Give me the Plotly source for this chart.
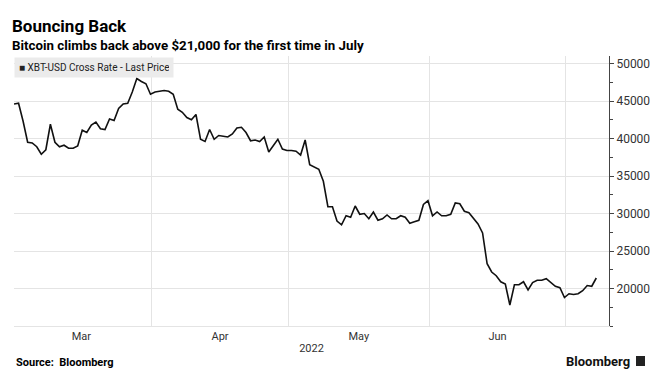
import pandas as pd
import plotly.graph_objects as go

# XBT-USD cross rate, last price (USD thousands), one value per day
mar = [44.6, 44.7, 42.3, 39.5, 39.4, 38.9, 37.9, 38.5, 41.9, 39.5,
       38.9, 39.1, 38.7, 38.7, 39.0, 41.1, 40.8, 41.8, 42.2, 41.3,
       41.2, 42.6, 42.4, 44.0, 44.6, 44.7, 46.2, 48.0, 47.6, 47.3, 45.9]
apr = [46.2, 46.3, 46.4, 46.3, 45.9, 43.9, 43.5, 42.8, 42.5, 43.2,
       39.9, 39.6, 41.2, 39.9, 40.4, 40.3, 40.2, 40.6, 41.4, 41.5,
       40.8, 39.7, 39.8, 39.6, 40.2, 38.2, 39.1, 39.9, 38.6, 38.4]
may = [38.4, 38.3, 37.8, 39.8, 36.5, 36.2, 35.9, 34.3, 30.9, 30.9,
       29.0, 28.5, 29.7, 29.5, 31.0, 29.9, 30.0, 29.3, 30.2, 29.1,
       29.3, 29.8, 29.3, 29.3, 29.7, 29.5, 28.7, 28.9, 29.1, 31.2, 31.7]
jun = [29.7, 30.2, 29.7, 29.7, 29.9, 31.4, 31.3, 30.3, 30.1, 29.3,
       28.6, 27.4, 23.3, 22.2, 21.7, 20.9, 20.6, 17.8, 20.5, 20.5,
       20.9, 19.8, 20.8, 21.1, 21.1, 21.3, 20.8, 20.3, 20.1, 18.8]
jul = [19.3, 19.2, 19.3, 19.7, 20.4, 20.3, 21.4]

first_day = "2022-03-01"
last_day = "2022-07-07"
month_starts = ["2022-03-01", "2022-04-01", "2022-05-01", "2022-06-01", "2022-07-01"]
month_labels = ["Mar", "Apr", "May", "Jun"]
y_ticks = [20000, 25000, 30000, 35000, 40000, 45000, 50000]

prices = [v * 1000 for v in mar + apr + may + jun + jul]
# Bloomberg closes are taken at 5pm New York time
days = pd.date_range(first_day, last_day, freq="D") + pd.Timedelta(hours=17)

starts = pd.to_datetime(month_starts)
mids = [starts[i] + (starts[i + 1] - starts[i]) / 2 for i in range(len(month_labels))]

FONT = "Roboto, 'Liberation Sans', Arial, sans-serif"
GRID = "#e4e4e4"

fig = go.Figure()
fig.add_trace(go.Scatter(x=days, y=prices, mode="lines",
                         line=dict(color="#111111", width=1.6),
                         showlegend=False, hoverinfo="x+y"))

# plot area in pixels: x 14..609, y 56..326
L, R, T, B = 14, 609, 56, 326
def px(x):
    return (x - L) / (R - L)
def py(y):
    return (B - y) / (B - T)

fig.update_layout(
    width=664, height=376,
    margin=dict(l=L, r=664 - R, t=T, b=376 - B),
    paper_bgcolor="white", plot_bgcolor="white",
    font=dict(family=FONT, color="#333333"),
    xaxis=dict(
        type="date",
        range=[days[0], pd.Timestamp("2022-07-10 12:00")],
        tickmode="array", tickvals=mids, ticktext=month_labels,
        ticks="", showgrid=False, zeroline=False,
        showline=True, linecolor=GRID, linewidth=1,
        tickfont=dict(size=11, color="#333333"),
        minor=dict(tickmode="array", tickvals=starts, showgrid=True,
                   gridcolor=GRID, gridwidth=1, ticks=""),
        title=dict(text="2022", font=dict(size=11, color="#333333"), standoff=2),
        fixedrange=True,
    ),
    yaxis=dict(
        side="right",
        range=[15000, 51000],
        tickmode="array", tickvals=y_ticks, tickformat="d",
        showgrid=True, gridcolor=GRID, gridwidth=1, zeroline=False,
        showline=True, linecolor="#444444", linewidth=1,
        ticks="outside", ticklen=4, tickcolor="#444444",
        tickfont=dict(size=12, color="#333333"),
        minor=dict(tickmode="linear", tick0=0, dtick=2500, ticks="outside",
                   ticklen=3, tickcolor="#444444", showgrid=False),
        fixedrange=True,
    ),
    showlegend=False,
)

ann = []
ann.append(dict(text="<b>Bouncing Back</b>", xref="paper", yref="paper",
                x=px(10), y=py(26), xanchor="left", yanchor="middle",
                showarrow=False, font=dict(family=FONT, size=17, color="#000000")))
ann.append(dict(text="<b>Bitcoin climbs back above $21,000 for the first time in July</b>",
                xref="paper", yref="paper", x=px(10), y=py(45), xanchor="left",
                yanchor="middle", showarrow=False,
                font=dict(family=FONT, size=13.3, color="#000000")))
ann.append(dict(text="■ XBT-USD Cross Rate - Last Price", xref="paper", yref="paper",
                x=px(14), y=py(57), xanchor="left", yanchor="top", align="left",
                width=150, height=11, borderpad=4, bgcolor="#ebebeb",
                bordercolor="rgba(0,0,0,0)", showarrow=False,
                font=dict(family=FONT, size=10, color="#222222")))
ann.append(dict(text="<b>Source:  Bloomberg</b>", xref="paper", yref="paper",
                x=px(14), y=py(362), xanchor="left", yanchor="middle",
                showarrow=False, font=dict(family=FONT, size=11, color="#000000")))
ann.append(dict(text="<b>Bloomberg</b>", xref="paper", yref="paper",
                x=px(632), y=py(361), xanchor="right", yanchor="middle",
                showarrow=False, font=dict(family=FONT, size=13, color="#111111")))
fig.update_layout(annotations=ann)

fig.add_shape(type="rect", xref="paper", yref="paper",
              x0=px(636), x1=px(645), y0=py(366), y1=py(356),
              fillcolor="#222222", line=dict(width=0))

fig.write_html("out.html", config={"displayModeBar": False},
               post_script="document.body.style.margin='0px';")
